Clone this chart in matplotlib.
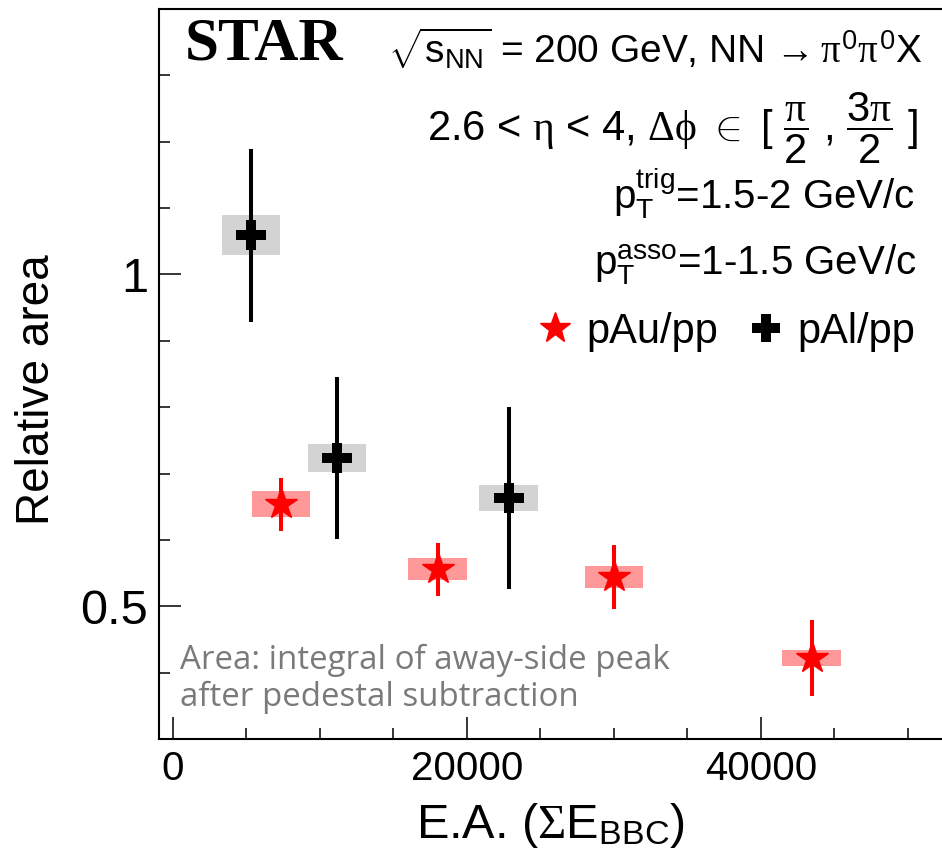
import numpy as np
import matplotlib
matplotlib.use("Agg")
import matplotlib.pyplot as plt

plt.rcParams['font.family'] = ['Liberation Sans', 'DejaVu Sans']
plt.rcParams['mathtext.fontset'] = 'custom'
plt.rcParams['mathtext.rm'] = 'Liberation Serif'
plt.rcParams['mathtext.it'] = 'Liberation Serif'
plt.rcParams['mathtext.sf'] = 'Liberation Sans'

# pAu/pp (red stars)
pau_x = [7350, 18000, 30000, 43450]
pau_y = [0.654, 0.556, 0.544, 0.422]
pau_stat = [0.040, 0.040, 0.048, 0.057]
pau_sys = [0.019, 0.016, 0.016, 0.012]

# pAl/pp (black crosses)
pal_x = [5300, 11150, 22850]
pal_y = [1.059, 0.723, 0.663]
pal_stat = [0.130, 0.122, 0.137]
pal_sys = [0.030, 0.021, 0.019]

box_width = 4000

fig = plt.figure(figsize=(9.42, 8.61), dpi=100)
ax = fig.add_axes([159 / 942, 122 / 861, 1 - 159 / 942, 730 / 861])

# systematic boxes
ax.bar(pau_x, 2 * np.array(pau_sys), bottom=np.array(pau_y) - np.array(pau_sys),
       width=box_width, color='#ff9999', zorder=1)
ax.bar(pal_x, 2 * np.array(pal_sys), bottom=np.array(pal_y) - np.array(pal_sys),
       width=box_width, color='#d3d3d3', zorder=1)

# statistical errors
ax.errorbar(pau_x, pau_y, yerr=pau_stat, fmt='none', ecolor='red', elinewidth=2.9, capsize=0, zorder=2)
ax.errorbar(pal_x, pal_y, yerr=pal_stat, fmt='none', ecolor='black', elinewidth=2.9, capsize=0, zorder=2)

ax.plot(pau_x, pau_y, ls='none', marker='*', ms=24, color='red', mec='red', zorder=3, label='pAu/pp')
ax.plot(pal_x, pal_y, ls='none', marker='P', ms=21, color='black', mec='black', mew=0, zorder=3, label='pAl/pp')

ax.set_xlim(-952, 52313)
ax.set_ylim(0.3, 1.4)

ax.set_xticks([0, 20000, 40000])
ax.set_xticks(np.arange(0, 52001, 5000), minor=True)
ax.set_yticks([0.5, 1.0])
ax.set_yticklabels(['0.5', '1'])
ax.set_yticks(np.arange(0.3, 1.41, 0.1), minor=True)

ax.tick_params(which='both', direction='in', width=1.1, top=False, right=False)
ax.tick_params(which='major', length=16)
ax.tick_params(which='minor', length=8)
ax.tick_params(axis='y', labelsize=35, pad=8)
ax.tick_params(axis='x', labelsize=29, pad=8)

ax.spines['right'].set_visible(False)
for s in ['left', 'bottom', 'top']:
    ax.spines[s].set_linewidth(1.5)

ax.set_xlabel(r'E.A. ($\Sigma$E$_{\mathsf{BBC}}$)', fontsize=35, labelpad=9)
ax.set_ylabel('Relative area', fontsize=33)
ax.yaxis.set_label_coords(-0.128, 0.479)

ax.text(0.033, 0.952, 'STAR', transform=ax.transAxes, fontsize=44, fontweight='bold',
        family='Liberation Serif', va='center', ha='left')

ax.text(0.975, 0.946, r'$\sqrt{\mathsf{s}_{\mathsf{NN}}}$ = 200 GeV, NN$\,\rightarrow\pi^{\mathsf{0}}\pi^{\mathsf{0}}$X',
        transform=ax.transAxes, fontsize=28, ha='right', va='center')
ax.text(0.97, 0.837, r'2.6 < $\eta$ < 4, $\Delta\phi$ $\in$ [ $\dfrac{\pi}{\mathsf{2}}$ , $\dfrac{\mathsf{3}\pi}{\mathsf{2}}$ ]',
        transform=ax.transAxes, fontsize=30, ha='right', va='center')
ax.text(0.966, 0.748, r'$\mathsf{p}_{\mathsf{T}}^{\mathsf{trig}}$=1.5-2 GeV/c',
        transform=ax.transAxes, fontsize=29, ha='right', va='center')
ax.text(0.968, 0.649, r'$\mathsf{p}_{\mathsf{T}}^{\mathsf{asso}}$=1-1.5 GeV/c',
        transform=ax.transAxes, fontsize=29, ha='right', va='center')

leg = ax.legend(loc='center right', bbox_to_anchor=(0.966, 0.5575), ncol=2, frameon=False,
                fontsize=30, handlelength=0.8, handletextpad=0.35, columnspacing=0.75,
                borderpad=0, borderaxespad=0, markerscale=0.95)

ax.text(0.027, 0.082, 'Area: integral of away-side peak\nafter pedestal subtraction',
        transform=ax.transAxes, fontsize=23.8, color='#7a7a7a', family='Open Sans',
        ha='left', va='center', linespacing=1.15)

fig.savefig('out.png', dpi=100)
